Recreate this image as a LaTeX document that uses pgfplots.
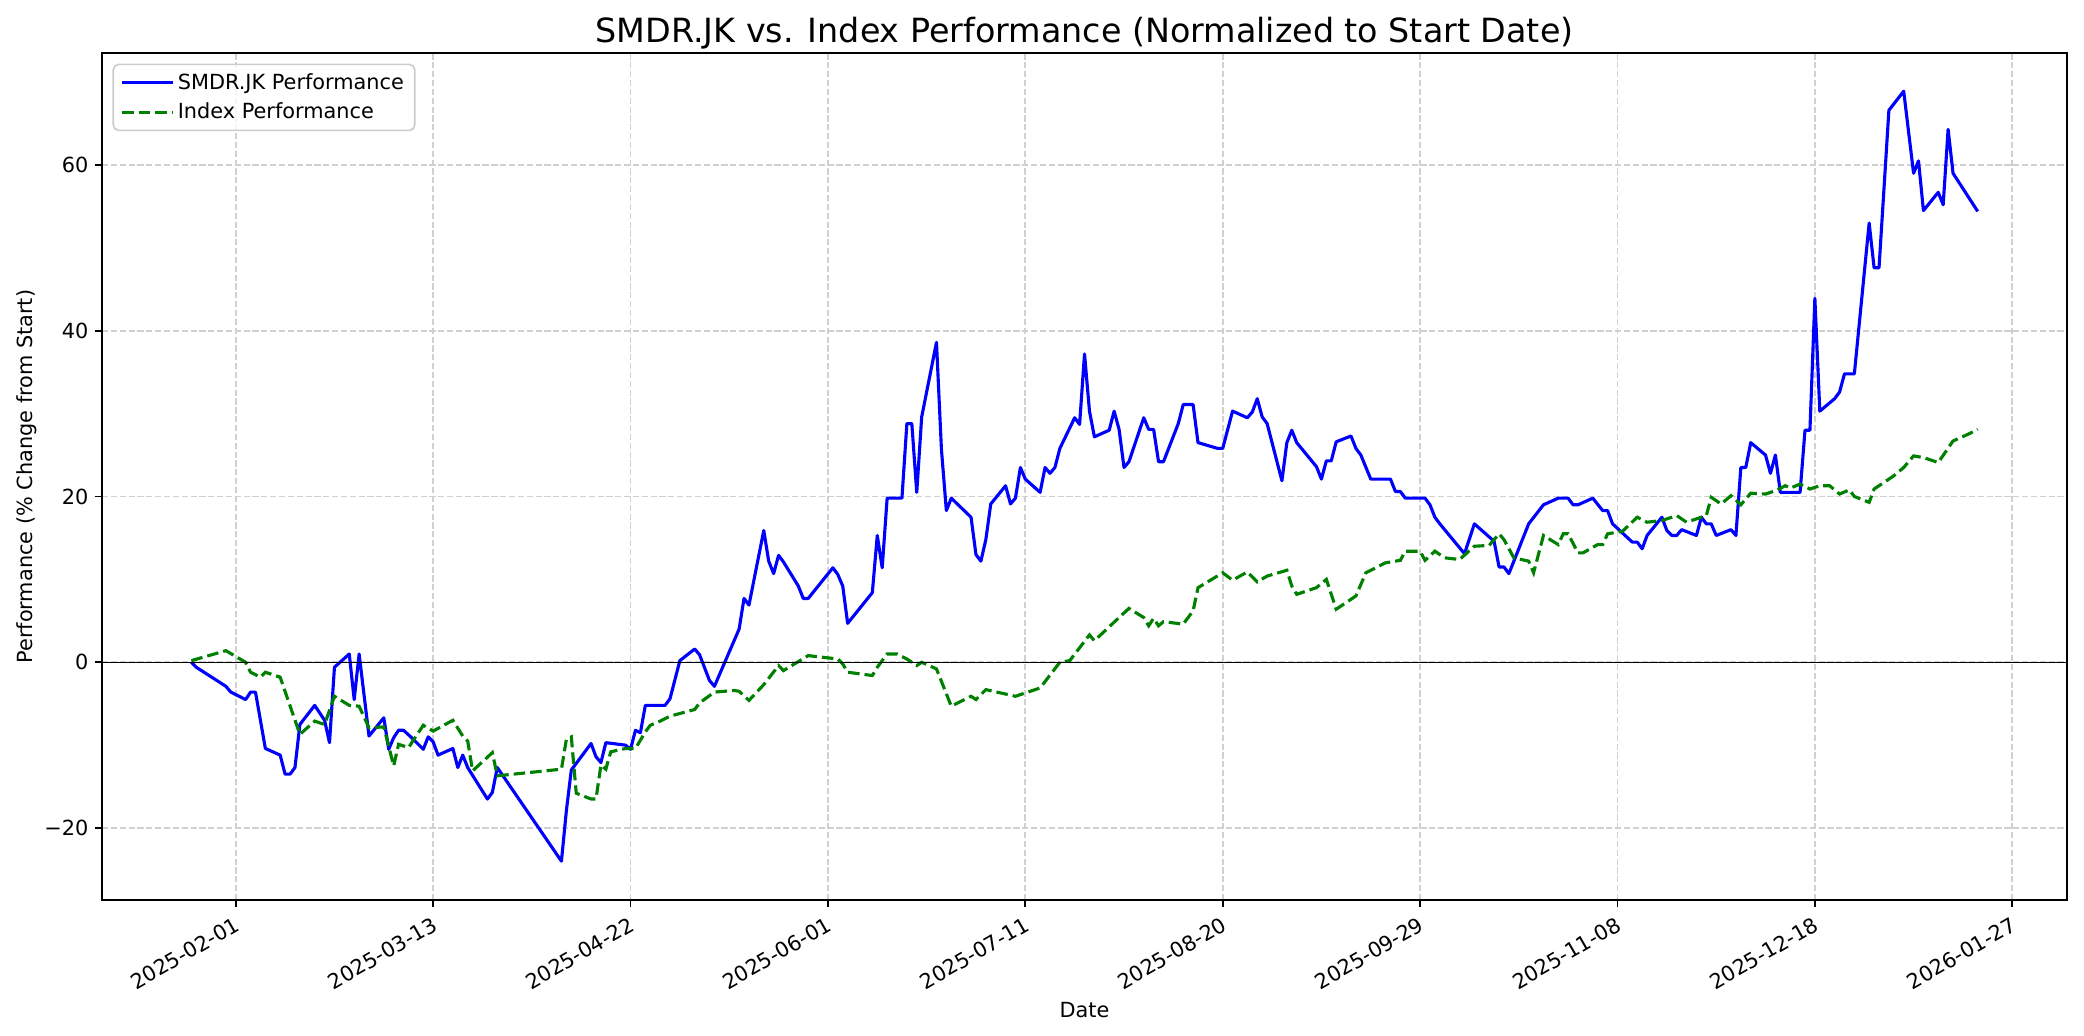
\documentclass[border=0pt]{standalone}
\usepackage{fontspec}
\setmainfont{DejaVu Sans}
\usepackage{pgfplots}
\pgfplotsset{compat=1.18}

\definecolor{mplblue}{HTML}{0000FF}
\definecolor{mplgreen}{HTML}{008000}
\definecolor{gridgray}{HTML}{D0D0D0}
\definecolor{legframe}{HTML}{CCCCCC}

\begin{document}
\begin{tikzpicture}
\begin{axis}[
  name=ax,
  scale only axis,
  width=1088.2pt, height=469.1pt,
  xmin=-27.1, xmax=371.1,
  ymin=-28.7, ymax=73.5,
  xtick={0,40,...,360},
  xticklabels={2025-02-01,2025-03-13,2025-04-22,2025-06-01,2025-07-11,2025-08-20,2025-09-29,2025-11-08,2025-12-18,2026-01-27},
  ytick={-20,0,20,40,60},
  yticklabels={−20,0,20,40,60},
  tick pos=left,
  tick align=outside,
  major tick length=4pt,
  major tick style={black, line width=0.92pt},
  axis line style={line width=0.92pt},
  grid=major,
  major grid style={gridgray, line width=0.92pt, dash pattern=on 3.42pt off 1.48pt},
  tick label style={font=\fontsize{11.54}{13.8}\selectfont},
  xticklabel style={rotate=30, anchor=north east},
  label style={font=\fontsize{11.54}{13.8}\selectfont},
  xlabel={Date},
  ylabel={Performance (\% Change from Start)},
  xlabel style={at={(axis description cs:0.5,-0.13)}, anchor=center},
  ylabel style={at={(axis description cs:-0.0385,0.5)}, anchor=center},
  title={SMDR.JK vs. Index Performance (Normalized to Start Date)},
  title style={font=\fontsize{18.46}{22}\selectfont, at={(axis description cs:0.5,1)}, anchor=base, yshift=0pt},
  legend style={at={(axis description cs:0,1)}, anchor=north west, xshift=5.8pt, yshift=-5.8pt,
    draw=legframe, line width=0.92pt, rounded corners=3pt, fill=white, fill opacity=0.8, text opacity=1,
    font=\fontsize{11.54}{13.8}\selectfont, inner xsep=4pt, inner ysep=3pt, row sep=2pt, cells={anchor=west}},
  legend image code/.code={\draw[#1] (-1pt,0pt) -- (27pt,0pt);},
]

% SMDR.JK (days since 2025-02-01)
\addplot[mplblue, line width=1.73pt, line join=round] table {
-9 0
-8 -0.6
-2 -2.9
-1 -3.6
2 -4.5
3 -3.6
4 -3.6
6 -10.4
9 -11.2
10 -13.5
11 -13.5
12 -12.7
13 -7.5
16 -5.2
18 -7.0
19 -9.7
20 -0.6
23 1.0
24 -4.5
25 1.0
27 -8.9
30 -6.7
31 -10.5
32 -9.1
33 -8.2
34 -8.2
36 -9.3
38 -10.5
39 -9.0
40 -9.6
41 -11.2
44 -10.4
45 -12.7
46 -11.2
47 -12.7
51 -16.5
52 -15.7
53 -12.7
66 -24.0
67 -17.9
68 -13.0
72 -9.8
73 -11.4
74 -12.1
75 -9.7
79 -10.0
80 -10.5
81 -8.2
82 -8.5
83 -5.2
87 -5.2
88 -4.4
90 0.2
93 1.6
94 0.9
96 -2.2
97 -2.9
102 4.0
103 7.7
104 6.9
107 15.9
108 12.2
109 10.7
110 12.9
111 12.1
114 9.2
115 7.7
116 7.7
121 11.4
122 10.6
123 9.2
124 4.7
129 8.4
130 15.3
131 11.4
132 19.8
135 19.8
136 28.8
137 28.8
138 20.5
139 29.6
142 38.6
143 25.7
144 18.3
145 19.8
149 17.5
150 13.0
151 12.2
152 14.8
153 19.1
156 21.3
157 19.1
158 19.8
159 23.5
160 22.1
163 20.5
164 23.5
165 22.8
166 23.5
167 25.8
170 29.5
171 28.7
172 37.2
173 30.3
174 27.2
177 28.0
178 30.3
179 28.1
180 23.5
181 24.2
184 29.5
185 28.1
186 28.1
187 24.2
188 24.2
191 28.8
192 31.1
194 31.1
195 26.5
199 25.8
200 25.8
202 30.3
205 29.5
206 30.2
207 31.8
208 29.6
209 28.8
212 21.9
213 26.5
214 28.0
215 26.5
219 23.6
220 22.1
221 24.3
222 24.3
223 26.6
226 27.3
227 25.8
228 25.0
230 22.1
234 22.1
235 20.6
236 20.6
237 19.8
241 19.8
242 19.0
243 17.5
244 16.7
249 13.1
251 16.7
255 14.6
256 11.5
257 11.5
258 10.7
262 16.7
265 19.0
268 19.8
270 19.8
271 19.0
272 19.0
275 19.8
277 18.3
278 18.3
279 16.7
283 14.5
284 14.5
285 13.7
286 15.3
289 17.5
290 15.9
291 15.3
292 15.3
293 16.0
296 15.3
297 17.5
298 16.7
299 16.7
300 15.3
303 16.0
304 15.3
305 23.5
306 23.5
307 26.5
310 25.0
311 22.8
312 25.0
313 20.5
317 20.5
318 28.0
319 28.0
320 43.9
321 30.3
324 31.8
325 32.6
326 34.8
328 34.8
331 53.0
332 47.6
333 47.6
335 66.6
338 68.9
340 59.0
341 60.5
342 54.5
345 56.7
346 55.2
347 64.3
348 59.0
353 54.4
};
\addlegendentry{SMDR.JK Performance}

% index
\addplot[mplgreen, line width=1.73pt, dash pattern=on 6.4pt off 2.77pt] table {
-9 0.2
-2 1.4
2 0.0
3 -1.2
5 -1.8
6 -1.2
9 -1.8
13 -8.7
16 -7.1
18 -7.5
20 -4.1
23 -5.2
25 -5.3
27 -7.9
30 -7.8
32 -12.5
33 -9.9
35 -10.3
38 -7.6
40 -8.3
44 -7.0
46 -8.9
47 -9.5
48 -13.1
52 -10.9
53 -13.7
66 -12.9
67 -9.3
68 -9.0
69 -15.8
72 -16.5
73 -16.5
74 -12.4
75 -12.9
76 -10.8
79 -10.4
81 -10.4
83 -8.4
84 -7.6
86 -7.1
88 -6.5
93 -5.7
94 -4.9
97 -3.6
101 -3.4
102 -3.5
104 -4.6
107 -2.7
110 -0.4
111 -1.0
116 0.8
122 0.4
123 -0.2
124 -1.2
129 -1.6
130 -0.6
132 1.0
134 1.0
136 0.4
138 -0.4
139 0.0
142 -0.8
145 -5.3
149 -4.1
150 -4.5
152 -3.3
158 -4.1
163 -3.1
167 0.0
169 0.2
173 3.3
174 2.6
179 5.4
181 6.5
184 5.4
185 4.4
186 5.3
187 4.4
188 4.9
192 4.6
194 6.2
195 9.0
200 10.8
202 9.9
205 10.9
207 9.7
209 10.4
213 11.1
214 9.2
215 8.2
219 9.0
221 10.0
223 6.4
227 8.0
229 10.8
233 12.0
236 12.3
237 13.4
240 13.4
241 12.3
243 13.4
245 12.6
248 12.4
251 14.0
254 14.1
256 15.5
257 14.8
259 12.6
262 12.2
263 10.8
265 15.3
268 14.2
269 15.5
270 15.5
272 13.2
273 13.2
276 14.2
277 14.2
278 15.5
281 15.8
284 17.5
286 16.9
289 17.1
291 17.5
292 17.7
294 16.9
298 17.7
299 19.9
301 19.1
303 20.1
305 19.0
307 20.4
310 20.3
312 20.7
314 21.3
315 21.0
317 21.5
319 20.9
320 21.1
321 21.3
323 21.3
325 20.3
327 20.8
328 20.0
331 19.3
332 20.9
336 22.5
338 23.5
340 24.9
342 24.7
345 24.1
348 26.7
351 27.5
353 28.1
};
\addlegendentry{Index Performance}

% zero line
\addplot[black, line width=0.55pt, forget plot] coordinates {(-27.1,0) (371.1,0)};
\end{axis}
\pgfresetboundingbox
\path[use as bounding box] ([xshift=-56.5pt,yshift=-74.8pt]ax.south west) rectangle ([xshift=9.4pt,yshift=29.4pt]ax.north east);
\end{tikzpicture}
\end{document}
